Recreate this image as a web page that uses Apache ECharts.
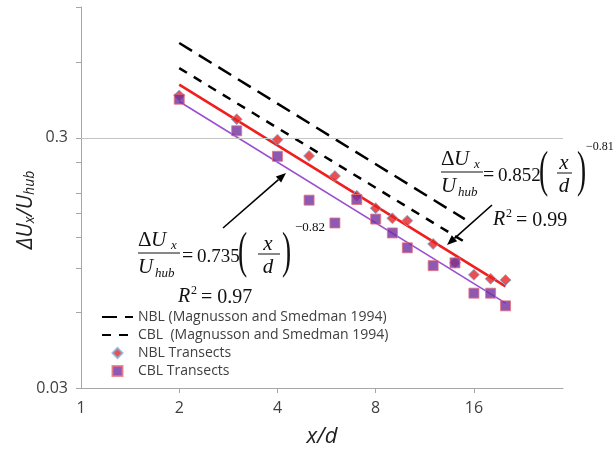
<!DOCTYPE html>
<html>
<head>
<meta charset="utf-8">
<script src="https://cdn.jsdelivr.net/npm/echarts@6/dist/echarts.min.js"></script>
<style>html,body{margin:0;padding:0;background:#fff;}#c{width:613px;height:454px;}</style>
</head>
<body>
<div id="c"></div>
<script>
// ---- data ----
const xPositions = [2, 3, 4, 5, 6, 7, 8, 9, 10, 12, 14, 16, 18, 20];
const nblTransects = [0.443, 0.356, 0.295, 0.254, 0.211, 0.176, 0.157, 0.143, 0.140, 0.113, 0.095, 0.085, 0.082, 0.081];
const cblTransects = [0.428, 0.320, 0.253, 0.169, 0.137, 0.170, 0.142, 0.125, 0.109, 0.0925, 0.0949, 0.0718, 0.0718, 0.0639];
const magNBL = [[2, 0.718], [15, 0.142]];
const magCBL = [[2, 0.570], [15, 0.115]];
const fitNBL = [[2, 0.489], [20, 0.0764]];
const fitCBL = [[2, 0.419], [20, 0.0655]];
const xTickLabels = [1, 2, 4, 8, 16];
const xTicks = [2, 4, 8, 16];
const yTickLabels = [0.03, 0.3];
const yTicks = [0.03, 0.06, 0.09, 0.12, 0.15, 0.18, 0.24, 0.3, 0.6, 1.0];
const legendNames = ['NBL (Magnusson and Smedman 1994)', 'CBL  (Magnusson and Smedman 1994)', 'NBL Transects', 'CBL Transects'];

const chart = echarts.init(document.getElementById('c'), null, {renderer: 'canvas'});

const SERIF = 'Liberation Serif';
const SANS = 'Open Sans';
function t(text, x, y, size, italic, align) {
  return {type: 'text', x: x, y: y, z: 100,
    style: {text: text, fontFamily: SERIF, fontSize: size, fontStyle: italic ? 'italic' : 'normal',
      fill: '#111', align: align || 'left', verticalAlign: 'middle'}};
}
function bar(x1, x2, y) {
  return {type: 'line', z: 100, shape: {x1: x1, y1: y, x2: x2, y2: y}, style: {stroke: '#111', lineWidth: 1}};
}
function paren(ch, x, y) {
  return {type: 'text', x: x, y: y, scaleX: 0.55, z: 100,
    style: {text: ch, fontFamily: SERIF, fontSize: 50, fill: '#111', align: 'left', verticalAlign: 'middle'}};
}
function arrow(x1, y1, x2, y2) {
  const a = Math.atan2(y2 - y1, x2 - x1), L = 10, W = 4;
  const bx = x2 - L * Math.cos(a), by = y2 - L * Math.sin(a);
  const px = -Math.sin(a) * W, py = Math.cos(a) * W;
  return [
    {type: 'line', z: 100, shape: {x1: x1, y1: y1, x2: bx, y2: by}, style: {stroke: '#000', lineWidth: 1.6}},
    {type: 'polygon', z: 100, shape: {points: [[x2, y2], [bx + px, by + py], [bx - px, by - py]]}, style: {fill: '#000'}}
  ];
}
function equation(o) {
  const els = [];
  const X = o.x, Y = o.y; // Y = fraction bar y
  els.push(t('Δ', X, Y - 13, 21, false));
  els.push(t('U', X + 13, Y - 13, 21, true));
  els.push(t('x', X + 33, Y - 7, 13, true));
  els.push(bar(X, X + 42, Y));
  els.push(t('U', X, Y + 14, 21, true));
  els.push(t('hub', X + 17, Y + 21, 13, true));
  els.push(t('=', X + o.eq, Y + 4, 20, false));
  els.push(t(o.coef, X + o.cf, Y + 4, 19, false));
  els.push(paren('(', X + o.lp, Y + 1));
  els.push(t('x', X + o.xc, Y - 9, 21, true, 'center'));
  els.push(bar(X + o.b1, X + o.b2, Y + 1));
  els.push(t('d', X + o.xc, Y + 14, 21, true, 'center'));
  els.push(paren(')', X + o.rp, Y + 1));
  els.push(t(o.exp, X + o.ex, Y - 25, o.exSize, false));
  els.push(t('R', o.rx, o.ry, 20, true));
  els.push(t('2', o.rx + 13, o.ry - 6, 12, false));
  els.push(t('= ' + o.r2, o.rx + 23, o.ry + 1, 20, false));
  return els;
}

const graphics = [].concat(
  equation({x: 138, y: 253, coef: '0.735', exp: '−0.82', eq: 44, cf: 59, lp: 100, xc: 130, b1: 120, b2: 142, rp: 144, ex: 157, exSize: 13,
    rx: 178, ry: 297, r2: '0.97'}),
  equation({x: 441, y: 172, coef: '0.852', exp: '−0.81', eq: 42, cf: 57, lp: 98, xc: 123, b1: 116, b2: 131, rp: 136, ex: 145, exSize: 12,
    rx: 493, ry: 220, r2: '0.99'}),
  arrow(223, 228, 286, 173),
  arrow(492, 205, 447, 245),
  [{
    type: 'text', x: 24, y: 210, rotation: Math.PI / 2, z: 100,
    style: {
      text: '{m|ΔU}{s|x}{m|/U}{s|hub}', align: 'center', verticalAlign: 'middle',
      rich: {
        m: {fontFamily: SANS, fontSize: 21, fontStyle: 'italic', lineHeight: 26, fill: '#222', verticalAlign: 'bottom'},
        s: {fontFamily: SANS, fontSize: 14, fontStyle: 'italic', lineHeight: 14, fill: '#222', verticalAlign: 'bottom'}
      }
    }
  }]
);

const hidden = {color: 'rgba(0,0,0,0)', borderColor: 'rgba(0,0,0,0)', borderWidth: 0};
const option = {
  backgroundColor: '#fff',
  animation: false,
  grid: {left: 81, right: 50, top: 7, bottom: 66, containLabel: false, outerBoundsMode: 'none'},
  legend: {
    orient: 'vertical', left: 101, top: 309, padding: 0, itemWidth: 31, itemHeight: 10, itemGap: 2,
    symbolKeepAspect: true,
    data: [
      {name: legendNames[0], itemStyle: hidden},
      {name: legendNames[1], itemStyle: hidden},
      {name: legendNames[2], icon: 'path://M5,0L10,5L5,10L0,5Z'},
      {name: legendNames[3], icon: 'path://M1,1H9V9H1Z'}
    ],
    textStyle: {fontFamily: SANS, fontSize: 14, lineHeight: 16, color: '#404040'},
    selectedMode: false
  },
  xAxis: {
    type: 'log', logBase: 2, min: 1, max: 30,
    name: 'x/d', nameLocation: 'middle', nameGap: 38,
    nameTextStyle: {fontFamily: SANS, fontSize: 22, fontStyle: 'italic', color: '#222'},
    axisLine: {show: true, lineStyle: {color: '#a6a6a6', width: 1}},
    axisTick: {show: true, customValues: xTicks, length: 5, lineStyle: {color: '#a6a6a6'}},
    axisLabel: {customValues: xTickLabels, margin: 12, fontFamily: SANS, fontSize: 16, color: '#404040',
      formatter: v => String(Math.round(v))},
    splitLine: {show: false}, minorTick: {show: false}
  },
  yAxis: {
    type: 'log', logBase: 10, min: 0.03, max: 1.0,
    axisLine: {show: true, lineStyle: {color: '#a6a6a6', width: 1}},
    axisTick: {show: true, customValues: yTicks, length: 5, lineStyle: {color: '#a6a6a6'}},
    axisLabel: {customValues: yTickLabels, margin: 13, fontFamily: SANS, fontSize: 16, color: '#404040',
      formatter: v => String(+(+v).toPrecision(3))},
    splitLine: {show: false}, minorTick: {show: false}
  },
  series: [
    {
      name: legendNames[0], type: 'line', data: magNBL, symbol: 'none', showSymbol: false, z: 3,
      lineStyle: {color: '#000', width: 2.5, type: [15, 8]}, itemStyle: {color: '#000'},
      markLine: {silent: true, symbol: 'none', label: {show: false},
        lineStyle: {color: '#c4c4c4', width: 1, type: 'solid'}, data: [{yAxis: 0.3}]}
    },
    {
      name: legendNames[1], type: 'line', data: magCBL, symbol: 'none', showSymbol: false, z: 3,
      lineStyle: {color: '#000', width: 2.5, type: [9, 8]}, itemStyle: {color: '#000'}
    },
    {
      name: 'NBL fit', type: 'line', data: fitNBL, symbol: 'none', z: 4,
      lineStyle: {color: '#f01e1e', width: 2.6}
    },
    {
      name: 'CBL fit', type: 'line', data: fitCBL, symbol: 'none', z: 4,
      lineStyle: {color: '#9a4fd0', width: 1.6}
    },
    {
      name: legendNames[2], type: 'scatter', symbol: 'diamond', symbolSize: 11, z: 5,
      data: xPositions.map((x, i) => [x, nblTransects[i]]),
      itemStyle: {color: '#e52420', borderColor: '#7fb0e0', borderWidth: 1}
    },
    {
      name: legendNames[3], type: 'scatter', symbol: 'rect', symbolSize: 10, z: 6,
      data: xPositions.map((x, i) => [x, cblTransects[i]]),
      itemStyle: {color: '#7030a0', borderColor: '#e8707a', borderWidth: 1}
    }
  ],
  graphic: graphics
};
chart.setOption(option);
</script>
</body>
</html>
